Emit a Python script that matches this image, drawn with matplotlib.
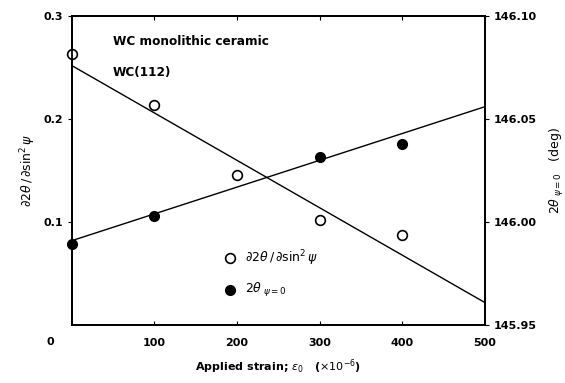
import matplotlib
matplotlib.use("Agg")
import matplotlib.pyplot as plt

# data
strain = [0, 100, 200, 300, 400]
slope = [0.263, 0.214, 0.146, 0.102, 0.088]          # d2theta/dsin^2psi (left axis)
strain_f = [0, 100, 300, 400]
two_theta = [145.9895, 146.003, 146.0315, 146.038]   # 2theta psi=0 (right axis)

fit_x = [0, 500]
slope_fit = [0.252, 0.022]
theta_fit = [145.991, 146.056]

plt.rcParams['font.family'] = ['DejaVu Sans']
plt.rcParams['font.size'] = 8

fig = plt.figure(figsize=(5.65, 3.83), dpi=100)
ax = fig.add_axes([0.127, 0.151, 0.731, 0.807])
ax2 = ax.twinx()

# fitted lines
ax.plot(fit_x, slope_fit, color='black', lw=1.0)
ax2.plot(fit_x, theta_fit, color='black', lw=1.0)

# points
ax.plot(strain, slope, 'o', mfc='white', mec='black', mew=1.2, ms=7, clip_on=False, zorder=5)
ax2.plot(strain_f, two_theta, 'o', color='black', ms=7, clip_on=False, zorder=5)

ax.set_xlim(0, 500)
ax.set_ylim(0, 0.3)
ax2.set_ylim(145.95, 146.10)

ax.set_xticks([100, 200, 300, 400, 500])
ax.set_xticklabels(['100', '200', '300', '400', '500'], fontweight='bold')
ax.tick_params(axis='x', direction='in', length=3, pad=9, top=True)
ax.text(-26, -0.0165, '0', ha='center', va='center', fontweight='bold')

ax.set_yticks([0.1, 0.2, 0.3])
ax.set_yticklabels(['0.1', '0.2', '0.3'], fontweight='bold')
ax.tick_params(axis='y', direction='out', length=3)

ax2.set_yticks([145.95, 146.00, 146.05, 146.10])
ax2.set_yticklabels(['145.95', '146.00', '146.05', '146.10'], fontweight='bold')
ax2.tick_params(axis='y', direction='out', length=3)

for a in (ax, ax2):
    for s in a.spines.values():
        s.set_linewidth(1.3)

ax.set_ylabel(r'$\partial 2\theta\,/\,\partial \sin^2\psi$', fontsize=9)
ax2.set_ylabel(r'$2\theta_{\ \psi=0}$   (deg)', fontsize=9, labelpad=8)
ax.set_xlabel(r'Applied strain; $\epsilon_0$   ($\times10^{-6}$)', fontsize=8, fontweight='bold', labelpad=7)

ax.text(50, 0.275, 'WC monolithic ceramic', fontsize=8.7, fontweight='bold', va='center')
ax.text(50, 0.245, 'WC(112)', fontsize=8.7, fontweight='bold', va='center')

# legend drawn as markers + text
ax.plot([191], [0.065], 'o', mfc='white', mec='black', mew=1.2, ms=7)
ax.text(210, 0.065, r'$\partial 2\theta\,/\,\partial \sin^2\psi$', fontsize=9, va='center')
ax.plot([191], [0.034], 'o', color='black', ms=7)
ax.text(210, 0.034, r'$2\theta_{\ \psi=0}$', fontsize=9, va='center')

fig.savefig('out.png', dpi=100)
